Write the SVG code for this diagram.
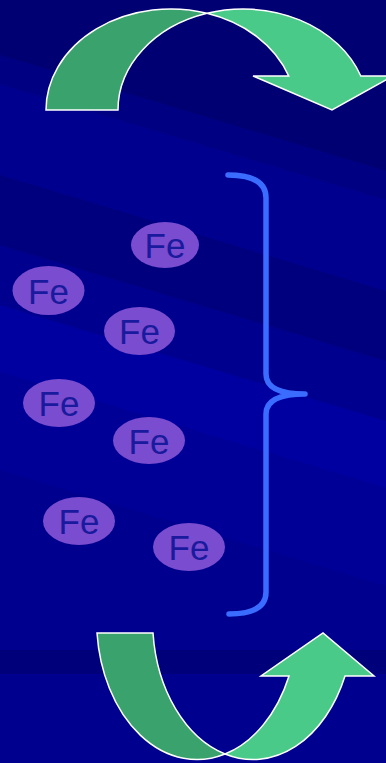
<svg xmlns="http://www.w3.org/2000/svg" width="386" height="763" viewBox="0 0 386 763">
  <defs>
    <style>
      .fe ellipse { fill: #7A4CCF; }
      .fe text { font-family: "Liberation Sans", Arial, sans-serif; font-size: 35px; fill: #1A1A9E; text-anchor: middle; }
      .dark { fill: #3AA26D; stroke: #FFFFFF; stroke-width: 1.5; stroke-linejoin: miter; }
      .light { fill: #4ACA89; stroke: #FFFFFF; stroke-width: 1.5; stroke-linejoin: miter; }
      .brace { fill: none; stroke: #3A6CFF; stroke-width: 5.5; stroke-linecap: round; stroke-linejoin: round; }
    </style>
  </defs>

  <!-- background -->
  <g id="background">
    <rect x="0" y="0" width="386" height="763" fill="#00008E"/>
    <polygon points="0,-120 386,-4 386,171 0,55" fill="#00005C" opacity="0.55"/>
    <polygon points="0,55 386,171 386,200 0,84" fill="#000070" opacity="0.35"/>
    <polygon points="0,175 386,291 386,361 0,245" fill="#000070" opacity="0.5"/>
    <polygon points="0,305 386,421 386,488 0,372" fill="#0000AA" opacity="0.65"/>
    <polygon points="0,372 386,488 386,586 0,470" fill="#00009C" opacity="0.6"/>
    <rect x="0" y="650" width="386" height="24" fill="#00007A"/>
  </g>

  <!-- top curved arrow -->
  <g id="arrow-top">
    <path class="dark" d="M46,110 A125,101 0 0 1 207,13.3 A125,101 0 0 0 118,110 Z"/>
    <path class="light" d="M207,13.3 A125,101 0 0 1 360.8,76 L393,76 L332,110 L253,76 L288.7,76 A125,101 0 0 0 207,13.3 Z"/>
  </g>

  <!-- Fe atoms -->
  <g id="fe1" class="fe"><ellipse cx="165" cy="245" rx="34" ry="23"/><text x="165" y="258">Fe</text></g>
  <g id="fe2" class="fe"><ellipse cx="48.5" cy="290.5" rx="36" ry="24.5"/><text x="48.5" y="303.5">Fe</text></g>
  <g id="fe3" class="fe"><ellipse cx="139.5" cy="331" rx="35.5" ry="24"/><text x="139.5" y="344">Fe</text></g>
  <g id="fe4" class="fe"><ellipse cx="59" cy="403" rx="36" ry="24"/><text x="59" y="416">Fe</text></g>
  <g id="fe5" class="fe"><ellipse cx="149" cy="440.5" rx="36" ry="23.5"/><text x="149" y="453.5">Fe</text></g>
  <g id="fe6" class="fe"><ellipse cx="79" cy="521" rx="36" ry="24"/><text x="79" y="534">Fe</text></g>
  <g id="fe7" class="fe"><ellipse cx="189" cy="547" rx="36" ry="24"/><text x="189" y="560">Fe</text></g>

  <!-- brace -->
  <g id="brace">
    <path class="brace" d="M228,175 Q266,175 266,198 L266,374 Q266,394 305,394 Q266,394 266,414 L266,592 Q266,614 229,614"/>
  </g>

  <!-- bottom curved arrow -->
  <g id="arrow-bottom">
    <path class="dark" d="M97,633 A100.4,139.6 0 0 0 225,754 A100.4,139.6 0 0 1 153,633 Z"/>
    <path class="light" d="M225,754 A100.4,139.6 0 0 0 345,676 L374,676 L323,633 L261,676 L289,676 A100.4,139.6 0 0 1 225,754 Z"/>
  </g>
</svg>
